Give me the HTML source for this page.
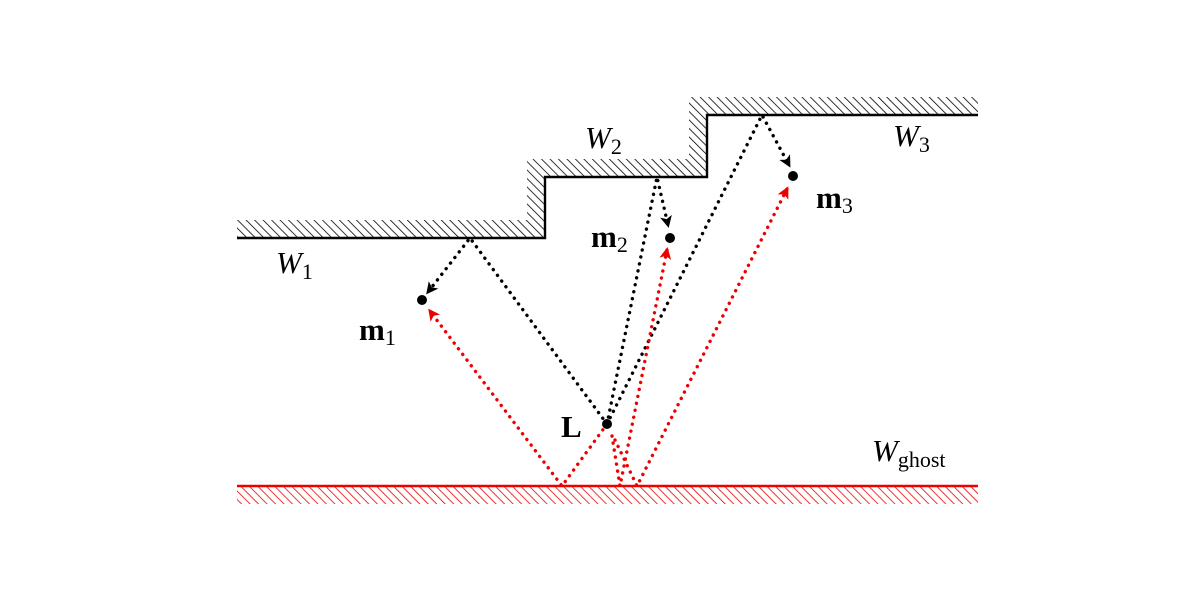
<!DOCTYPE html>
<html><head><style>body{margin:0;background:#fff}svg{display:block}</style></head>
<body>
<svg width="1200" height="600" viewBox="0 0 1200 600" xmlns="http://www.w3.org/2000/svg">
<defs>
<pattern id="hb" width="6" height="6" patternUnits="userSpaceOnUse" patternTransform="rotate(-45)">
<line x1="0" y1="0" x2="0" y2="6" stroke="#000" stroke-width="1.6"/></pattern>
<pattern id="hr" width="6" height="6" patternUnits="userSpaceOnUse" patternTransform="rotate(-45)">
<line x1="0" y1="0" x2="0" y2="6" stroke="#e00" stroke-width="1.6"/></pattern>
<marker id="ab" markerWidth="12" markerHeight="12" refX="9" refY="6" orient="auto" markerUnits="userSpaceOnUse" viewBox="0 0 12 12"><path d="M0,0 L12,6 L0,12 L3,6z" fill="#000"/></marker>
<marker id="ar" markerWidth="12" markerHeight="12" refX="9" refY="6" orient="auto" markerUnits="userSpaceOnUse" viewBox="0 0 12 12"><path d="M0,0 L12,6 L0,12 L3,6z" fill="#e00"/></marker>
</defs>
<path d="M237,220 H527 V159 H689 V97 H978 V115 H707 V177 H545 V238 H237Z" fill="url(#hb)"/>
<rect x="237" y="486" width="741" height="18" fill="url(#hr)"/>
<path d="M237,238 H545 V177 H707 V115 H978" fill="none" stroke="#000" stroke-width="2.4"/>
<line x1="237" y1="486" x2="978" y2="486" stroke="#e00" stroke-width="2.4"/>
<g fill="none" stroke="#000" stroke-width="3.4" stroke-dasharray="0.1 7" stroke-linecap="round">
<path d="M607,424 L470,238 L428,292" marker-end="url(#ab)"/>
<path d="M607,424 L657,177 L668,225" marker-end="url(#ab)"/>
<path d="M607,424 L762,115 L789,165" marker-end="url(#ab)"/>
</g>
<g fill="none" stroke="#e00" stroke-width="3.4" stroke-dasharray="0.1 7" stroke-linecap="round">
<path d="M607,424 L562,486 L430,311" marker-end="url(#ar)"/>
<path d="M612,436 L620,486 L667,250" marker-end="url(#ar)"/>
<path d="M615,440 L637,486 L787,189" marker-end="url(#ar)"/>
</g>
<g fill="#000"><circle cx="422" cy="300" r="5"/><circle cx="670" cy="238" r="5"/><circle cx="793" cy="176" r="5"/><circle cx="607" cy="424" r="5"/></g>
<g font-family="Liberation Serif, serif" font-size="31" fill="#000">
<text x="276" y="273" font-style="italic">W<tspan font-style="normal" font-size="22" dy="6">1</tspan></text>
<text x="585" y="148" font-style="italic">W<tspan font-style="normal" font-size="22" dy="6">2</tspan></text>
<text x="893" y="146" font-style="italic">W<tspan font-style="normal" font-size="22" dy="6">3</tspan></text>
<text x="872" y="461" font-style="italic">W<tspan font-style="normal" font-size="22" dy="6">ghost</tspan></text>
<text x="359" y="340" font-weight="bold">m<tspan font-weight="normal" font-size="22" dy="5">1</tspan></text>
<text x="591" y="247" font-weight="bold">m<tspan font-weight="normal" font-size="22" dy="5">2</tspan></text>
<text x="816" y="208" font-weight="bold">m<tspan font-weight="normal" font-size="22" dy="5">3</tspan></text>
<text x="561" y="437" font-weight="bold">L</text>
</g>
</svg>
</body></html>
